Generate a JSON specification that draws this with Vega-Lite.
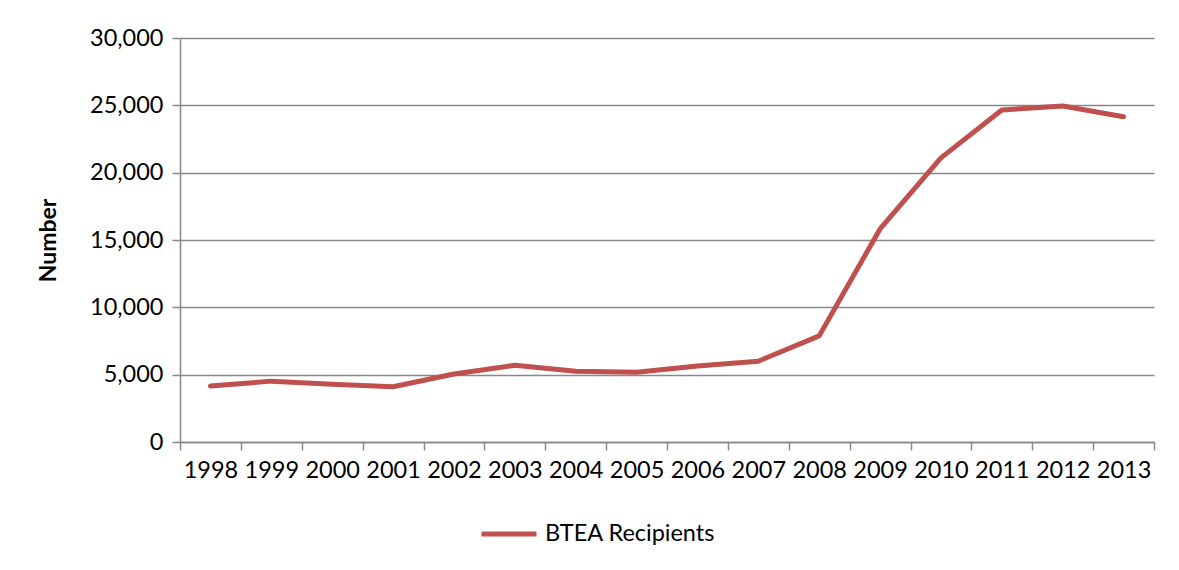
{
  "$schema": "https://vega.github.io/schema/vega-lite/v6.json",
  "autosize": "none",
  "width": 974,
  "height": 404,
  "padding": {"left": 180, "top": 38, "right": 25, "bottom": 128},
  "background": "white",
  "config": {
    "font": "Lato",
    "view": {"stroke": null}
  },
  "data": {
    "values": [
      {"year": "1998", "series": "BTEA Recipients", "value": 4150},
      {"year": "1999", "series": "BTEA Recipients", "value": 4520},
      {"year": "2000", "series": "BTEA Recipients", "value": 4280},
      {"year": "2001", "series": "BTEA Recipients", "value": 4100},
      {"year": "2002", "series": "BTEA Recipients", "value": 5050},
      {"year": "2003", "series": "BTEA Recipients", "value": 5700},
      {"year": "2004", "series": "BTEA Recipients", "value": 5250},
      {"year": "2005", "series": "BTEA Recipients", "value": 5180},
      {"year": "2006", "series": "BTEA Recipients", "value": 5640},
      {"year": "2007", "series": "BTEA Recipients", "value": 6000},
      {"year": "2008", "series": "BTEA Recipients", "value": 7880},
      {"year": "2009", "series": "BTEA Recipients", "value": 15820},
      {"year": "2010", "series": "BTEA Recipients", "value": 21100},
      {"year": "2011", "series": "BTEA Recipients", "value": 24650},
      {"year": "2012", "series": "BTEA Recipients", "value": 24950},
      {"year": "2013", "series": "BTEA Recipients", "value": 24150}
    ]
  },
  "mark": {"type": "line", "strokeWidth": 5, "strokeCap": "round", "strokeJoin": "round"},
  "encoding": {
    "x": {
      "field": "year",
      "type": "ordinal",
      "title": null,
      "scale": {"paddingInner": 0, "paddingOuter": 0},
      "axis": {
        "labelAngle": 0,
        "labelFontSize": 23.5,
        "labelColor": "#000000",
        "labelPadding": 8,
        "tickBand": "extent",
        "tickSize": 8,
        "tickColor": "#888888",
        "domainColor": "#888888",
        "domainWidth": 1.5,
        "tickWidth": 1.5,
        "grid": false
      }
    },
    "y": {
      "field": "value",
      "type": "quantitative",
      "title": "Number",
      "scale": {"domain": [0, 30000], "nice": false},
      "axis": {
        "values": [0, 5000, 10000, 15000, 20000, 25000, 30000],
        "format": ",d",
        "labelFontSize": 23.5,
        "labelColor": "#000000",
        "labelPadding": 9,
        "tickSize": 8,
        "tickColor": "#888888",
        "tickWidth": 1.5,
        "domainColor": "#888888",
        "domainWidth": 1.5,
        "grid": true,
        "gridColor": "#888888",
        "gridWidth": 1.5,
        "titleFontSize": 23,
        "titleFontWeight": "bold",
        "titleColor": "#000000",
        "titlePadding": 29
      }
    },
    "color": {
      "field": "series",
      "type": "nominal",
      "title": null,
      "scale": {"range": ["#C0504D"]},
      "legend": {
        "orient": "none",
        "legendX": 299,
        "legendY": 466,
        "symbolType": "stroke",
        "symbolSize": 3025,
        "symbolStrokeWidth": 5,
        "labelFontSize": 23.5,
        "labelColor": "#000000",
        "labelOffset": 6,
        "labelLimit": 0
      }
    }
  }
}
